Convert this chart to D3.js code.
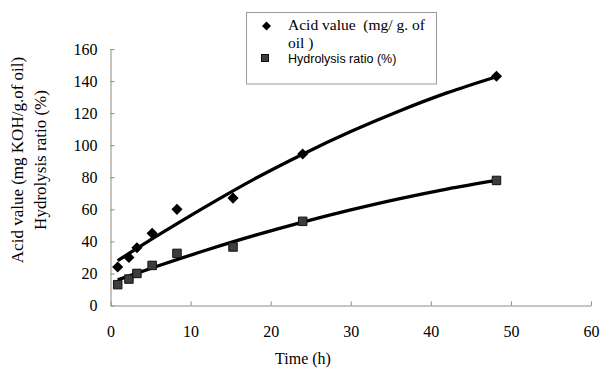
<!DOCTYPE html>
<html>
<head>
<meta charset="UTF-8">
<title>Acid value and hydrolysis ratio</title>
<script src="https://d3js.org/d3.v7.min.js"></script>
<style>
  body { margin: 0; background: #fff; }
</style>
</head>
<body>
<svg id="chart"></svg>
<script>
// measured points
const times = [0.9, 2.3, 3.3, 5.2, 8.3, 15.3, 24, 48.2];
const acidValue = [24, 30, 36, 45, 60, 67, 94.5, 143];
const hydrolysis = [13, 16.5, 20, 25, 32.5, 36.5, 52.5, 78];

// trend lines
const trendTimes = [0.9, 6, 12, 18, 24, 30, 36, 42, 48.2];
const acidTrend = [28, 44, 62, 79, 94.4, 108.5, 121.2, 132.6, 142.7];
const hydrolysisTrend = [16, 24.8, 34.6, 43.7, 52, 59.6, 66.5, 72.6, 78];

const xTicks = [0, 10, 20, 30, 40, 50, 60];
const yTicks = [0, 20, 40, 60, 80, 100, 120, 140, 160];

const serif = "'Liberation Serif', 'Times New Roman', serif";
const sans = "'Liberation Sans', Arial, sans-serif";

const width = 602, height = 370;
const svg = d3.select("#chart").attr("width", width).attr("height", height);

const x = d3.scaleLinear().domain([0, 60]).range([110.5, 591]);
const y = d3.scaleLinear().domain([0, 160]).range([305.5, 49]);

// axes
const xAxis = svg.append("g")
  .attr("transform", `translate(0, ${y(0)})`)
  .call(d3.axisBottom(x).tickValues(xTicks).tickSizeInner(-4).tickSizeOuter(0).tickPadding(20));
const yAxis = svg.append("g")
  .attr("transform", `translate(${x(0)}, 0)`)
  .call(d3.axisLeft(y).tickValues(yTicks).tickSizeInner(-4).tickSizeOuter(0).tickPadding(13));

[xAxis, yAxis].forEach(a => {
  a.select(".domain").attr("stroke", "#8a8a8a");
  a.selectAll(".tick line").attr("stroke", "#8a8a8a");
  a.selectAll(".tick text")
    .style("font-family", serif).style("font-size", "16px").attr("fill", "#000");
});

// axis titles
svg.append("text")
  .attr("x", 303).attr("y", 364)
  .attr("text-anchor", "middle")
  .style("font-family", serif).style("font-size", "16px")
  .text("Time (h)");

const yTitle = svg.append("text")
  .attr("transform", `translate(0, 160) rotate(-90)`)
  .attr("text-anchor", "middle")
  .style("font-family", serif).style("font-size", "17px");
yTitle.append("tspan").attr("x", 0).attr("y", 23).text("Acid value (mg KOH/g.of oil)");
yTitle.append("tspan").attr("x", 0).attr("y", 46).text("Hydrolysis ratio (%)");

// trend lines
const line = d3.line().x(d => x(d[0])).y(d => y(d[1])).curve(d3.curveMonotoneX);
svg.append("path")
  .datum(trendTimes.map((t, i) => [t, acidTrend[i]]))
  .attr("d", line).attr("fill", "none").attr("stroke", "#000").attr("stroke-width", 3.3);
svg.append("path")
  .datum(trendTimes.map((t, i) => [t, hydrolysisTrend[i]]))
  .attr("d", line).attr("fill", "none").attr("stroke", "#000").attr("stroke-width", 3.3);

// markers
const diamond = d3.symbol().type(d3.symbolSquare).size(62);
const square = d3.symbol().type(d3.symbolSquare).size(72);

svg.append("g").selectAll("path")
  .data(times.map((t, i) => [t, hydrolysis[i]]))
  .join("path")
  .attr("d", square)
  .attr("transform", d => `translate(${x(d[0])}, ${y(d[1])})`)
  .attr("fill", "#3d3d3d").attr("stroke", "#111").attr("stroke-width", 1);

svg.append("g").selectAll("path")
  .data(times.map((t, i) => [t, acidValue[i]]))
  .join("path")
  .attr("d", diamond)
  .attr("transform", d => `translate(${x(d[0])}, ${y(d[1])}) rotate(45)`)
  .attr("fill", "#000");

// legend
const legend = svg.append("g");
legend.append("rect")
  .attr("x", 246.5).attr("y", 12.5).attr("width", 190).attr("height", 71.5)
  .attr("fill", "#fff").attr("stroke", "#999").attr("stroke-width", 1);
legend.append("path")
  .attr("d", d3.symbol().type(d3.symbolSquare).size(40))
  .attr("transform", "translate(266.5, 26) rotate(45)")
  .attr("fill", "#000");
legend.append("text").attr("x", 288).attr("y", 30)
  .attr("xml:space", "preserve")
  .style("font-family", serif).style("font-size", "15.5px")
  .text("Acid value  (mg/ g. of");
legend.append("text").attr("x", 288).attr("y", 48)
  .style("font-family", serif).style("font-size", "15.5px")
  .text("oil )");
legend.append("rect")
  .attr("x", 261.5).attr("y", 54.5).attr("width", 7).attr("height", 7)
  .attr("fill", "#3d3d3d").attr("stroke", "#111");
legend.append("text").attr("x", 288).attr("y", 63)
  .style("font-family", sans).style("font-size", "12.5px")
  .text("Hydrolysis ratio (%)");
</script>
</body>
</html>
